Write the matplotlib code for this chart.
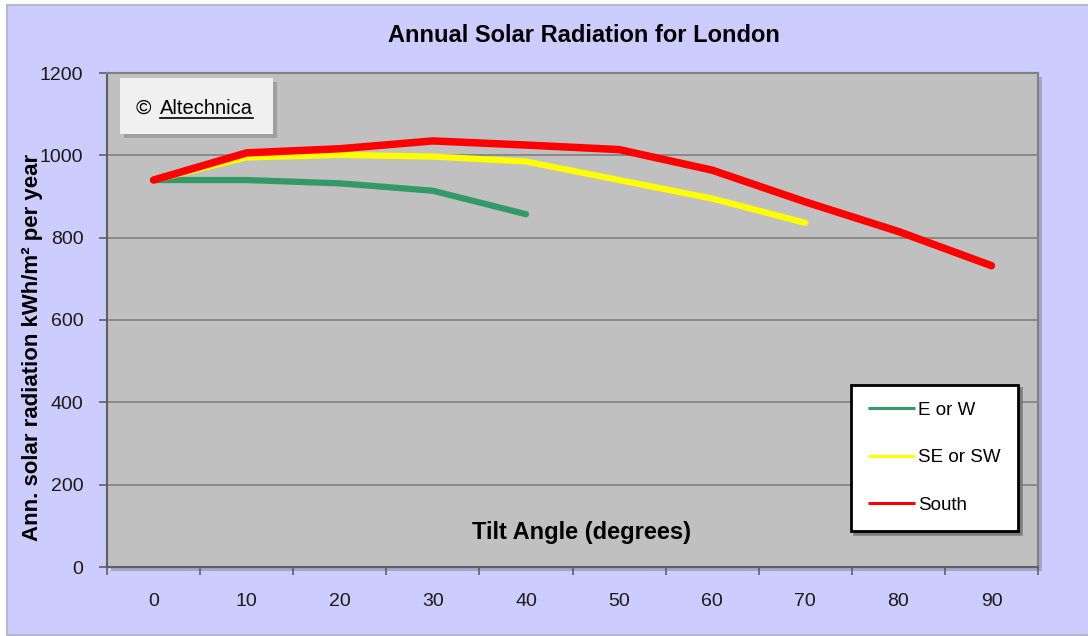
import matplotlib
matplotlib.use("Agg")
import matplotlib.pyplot as plt
from matplotlib.patches import Rectangle
from matplotlib.lines import Line2D

plt.rcParams['font.family'] = ['Liberation Sans', 'DejaVu Sans']

# tilt angle categories (degrees)
tilt = [0, 10, 20, 30, 40, 50, 60, 70, 80, 90]
# annual solar radiation, kWh/m2 per year
e_or_w = [940, 940, 932, 914, 857]
se_or_sw = [940, 995, 1001, 997, 985, 940, 895, 836]
south = [940, 1006, 1016, 1035, 1025, 1014, 964, 887, 815, 732]
yticks = [0, 200, 400, 600, 800, 1000, 1200]

W, H = 1088, 636
fig = plt.figure(figsize=(W / 100, H / 100), dpi=100, facecolor='white')

# lavender chart background with thin border
fig.patches.append(Rectangle((7 / W, 1 / H), (W - 6) / W, (H - 6) / H,
                             transform=fig.transFigure, facecolor='#CCCCFF',
                             edgecolor='#B8B8C8', linewidth=1.5, zorder=0))

left, right, top, bottom = 107, 1038, 73, 567
ax_rect = [left / W, (H - bottom) / H, (right - left) / W, (bottom - top) / H]
# plot area shadow
fig.patches.append(Rectangle((ax_rect[0] + 4 / W, ax_rect[1] - 4 / H), ax_rect[2], ax_rect[3],
                             transform=fig.transFigure, facecolor='#A4A4C4',
                             edgecolor='none', zorder=0.5))
ax = fig.add_axes(ax_rect)
ax.set_zorder(1)
ax.set_facecolor('#C0C0C0')

x_all = list(range(len(tilt)))
ax.plot(x_all[:len(e_or_w)], e_or_w, color='#339966', lw=4.5, solid_capstyle='round',
        solid_joinstyle='round', label='E or W', zorder=3)
ax.plot(x_all[:len(se_or_sw)], se_or_sw, color='#FFFF00', lw=4.5, solid_capstyle='round',
        solid_joinstyle='round', label='SE or SW', zorder=4)
ax.plot(x_all, south, color='#FF0000', lw=5.4, solid_capstyle='round',
        solid_joinstyle='round', label='South', zorder=5)

ax.set_xlim(-0.5, len(tilt) - 0.5)
ax.set_ylim(0, 1200)
ax.set_yticks(yticks)
ax.set_yticklabels([str(v) for v in yticks], fontsize=14, color='#1A1A1A')
ax.yaxis.grid(True, color='#808080', lw=1.2)
ax.set_axisbelow(True)

# category axis: labels centred, tick marks between categories
ax.set_xticks(x_all)
ax.set_xticklabels([str(t) for t in tilt], fontsize=14, color='#1A1A1A')
ax.tick_params(axis='x', which='major', length=0, pad=19)
ax.set_xticks([i - 0.5 for i in range(len(tilt) + 1)], minor=True)
ax.tick_params(axis='x', which='minor', length=6, width=1.2, color='#606060', direction='out')
ax.tick_params(axis='y', length=6, width=1.2, color='#606060', direction='out', pad=11)

for side in ['top', 'right']:
    ax.spines[side].set_color('#808080')
    ax.spines[side].set_linewidth(1.5)
for side in ['left', 'bottom']:
    ax.spines[side].set_color('#606060')
    ax.spines[side].set_linewidth(1.5)

fig.text(584 / W, 1 - 35 / H, 'Annual Solar Radiation for London', ha='center', va='center',
         fontsize=17, fontweight='bold')
fig.text(582 / W, 1 - 533 / H, 'Tilt Angle (degrees)', ha='center', va='center',
         fontsize=17, fontweight='bold', zorder=5)
fig.text(33 / W, 1 - 347 / H, 'Ann. solar radiation kWh/m² per year', ha='center', va='center',
         rotation=90, fontsize=16, fontweight='bold')

# copyright box
bx0, by0, bx1, by1 = 120, 78, 273, 134
fig.patches.append(Rectangle(((bx0 + 4) / W, 1 - (by1 + 4) / H), (bx1 - bx0) / W, (by1 - by0) / H,
                             transform=fig.transFigure, facecolor='#8C8C8C', alpha=0.6,
                             edgecolor='none', zorder=6))
fig.patches.append(Rectangle((bx0 / W, 1 - by1 / H), (bx1 - bx0) / W, (by1 - by0) / H,
                             transform=fig.transFigure, facecolor='#F0F0F0',
                             edgecolor='none', zorder=7))
fig.text(136 / W, 1 - 114 / H, '©', ha='left', va='baseline', fontsize=15, zorder=8)
fig.text(160 / W, 1 - 114 / H, 'Altechnica', ha='left', va='baseline', fontsize=14.5, zorder=8)
fig.lines.append(Line2D([160 / W, 253 / W], [1 - 118 / H, 1 - 118 / H], transform=fig.transFigure,
                        color='black', lw=1.2, zorder=8))

leg = ax.legend(loc='upper left', bbox_to_anchor=(851 / W, 1 - 385 / H),
                bbox_transform=fig.transFigure, fontsize=13.5, frameon=True,
                fancybox=False, shadow={'color': '#707070', 'alpha': 0.7},
                handlelength=2.5, handletextpad=0.2, labelspacing=1.62,
                borderpad=0.9, borderaxespad=0)
leg.get_frame().set_edgecolor('black')
leg.get_frame().set_linewidth(2)
leg.get_frame().set_facecolor('white')
leg.get_frame().set_alpha(1)
for ln in leg.get_lines():
    ln.set_linewidth(2.2)
    ln.set_solid_capstyle('butt')

fig.savefig('out.png', dpi=100, facecolor=fig.get_facecolor())
